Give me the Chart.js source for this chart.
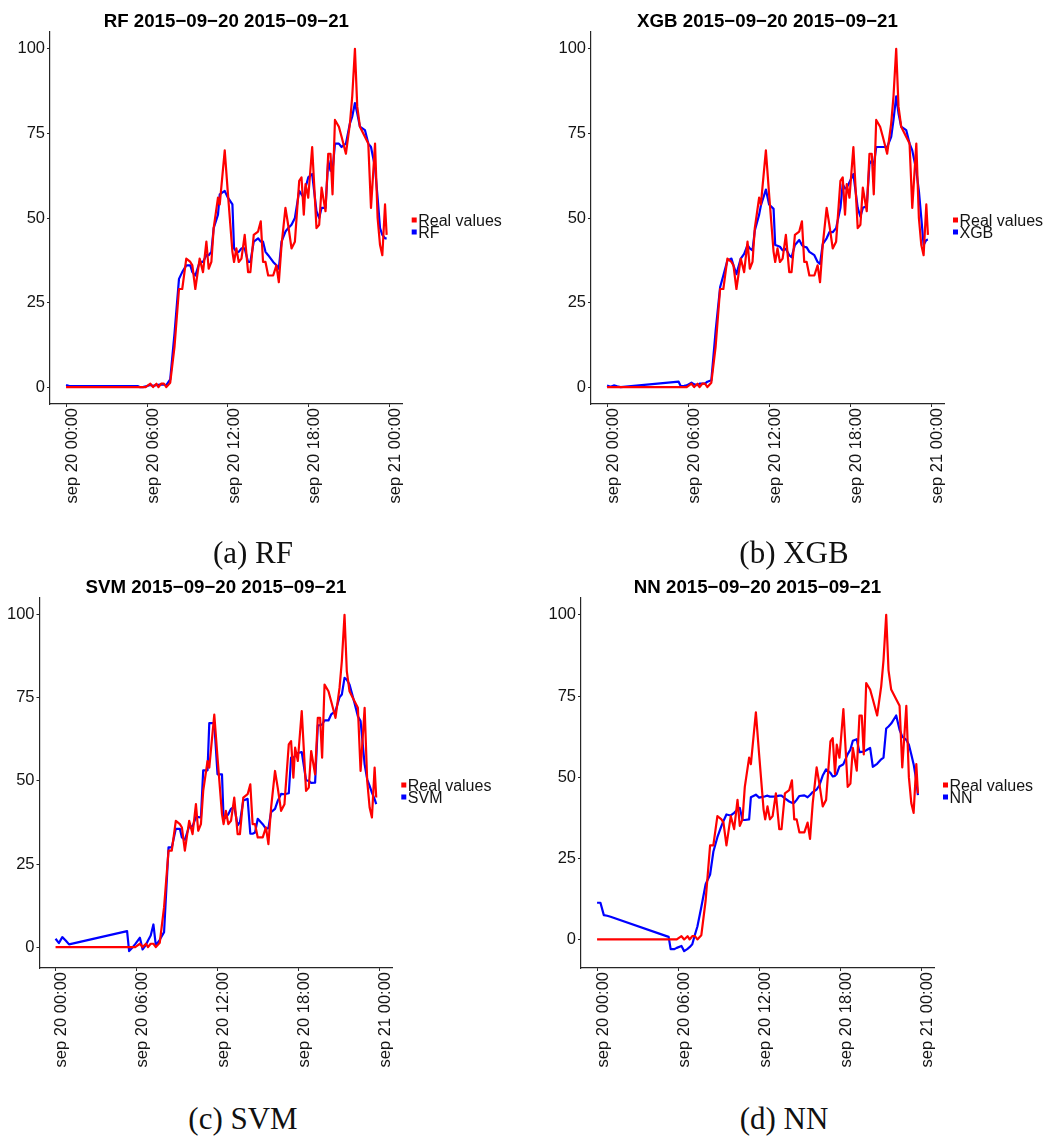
<!DOCTYPE html>
<html>
<head>
<meta charset="utf-8">
<script src="https://cdn.jsdelivr.net/npm/chart.js@4.4.1/dist/chart.umd.min.js"></script>
<style>
  html, body { margin: 0; padding: 0; background: #ffffff; }
  body { width: 1045px; height: 1137px; position: relative; overflow: hidden; }
  canvas { position: absolute; }
  .caption {
    position: absolute; width: 300px; text-align: center;
    font-family: "Liberation Serif", "Times New Roman", serif;
    font-size: 31px; line-height: 31px; color: #111;
  }
</style>
</head>
<body>
<canvas id="rf"  width="522" height="510" style="left:0px;top:0px;"></canvas>
<canvas id="xgb" width="504" height="510" style="left:541px;top:0px;"></canvas>
<canvas id="svm" width="522" height="508" style="left:0px;top:566px;"></canvas>
<canvas id="nn"  width="514" height="508" style="left:531px;top:566px;"></canvas>
<div class="caption" style="left:103px;top:537px;">(a) RF</div>
<div class="caption" style="left:644px;top:537px;">(b) XGB</div>
<div class="caption" style="left:93px;top:1103px;">(c) SVM</div>
<div class="caption" style="left:634px;top:1103px;">(d) NN</div>
<script>
// Observation times, hours after 2015-09-20 00:00
const times = [0, 0.25, 0.5, 0.75, 1.0,
  5.3, 5.45, 5.7, 5.9, 6.25, 6.45, 6.7, 6.85, 7.05, 7.25, 7.43,
  7.72, 8.04, 8.37, 8.61, 8.91, 9.21, 9.36, 9.58, 9.9, 10.15,
  10.4, 10.57, 10.77, 10.94, 11.26, 11.39, 11.76, 12.0, 12.33, 12.45,
  12.62, 12.8, 13.0, 13.24, 13.49, 13.66, 13.91, 14.23, 14.43, 14.6,
  14.78, 14.98, 15.35, 15.59, 15.77, 15.97, 16.26, 16.46, 16.71, 16.96,
  17.28, 17.45, 17.62, 17.75, 17.95, 18.24, 18.56, 18.76, 18.94, 19.23,
  19.43, 19.6, 19.75, 19.93, 20.22, 20.42, 20.74, 21.04, 21.21, 21.41,
  21.58, 21.78, 22.15, 22.4, 22.6, 22.9, 23.09, 23.27, 23.44, 23.64, 23.76];

// Measured values
const realValues = [0, 0, 0, 0, 0,
  0, 0, 0, 0, 1, 0, 1, 0, 1, 1, 0,
  1.3, 12, 29, 29, 38, 37, 36, 29, 38, 34,
  43, 35, 37, 47, 56, 54, 70, 57, 40, 37,
  41, 37, 38, 45, 34, 34, 45, 46, 49, 37,
  37, 33, 33, 36, 31, 42, 53, 48, 41, 43,
  61, 62, 51, 60, 56, 71, 47, 48, 59, 52,
  69, 69, 57, 79, 77, 74, 69, 78, 86, 100,
  83, 77, 74, 72, 53, 72, 50, 42, 39, 54, 45];

// Model predictions
const rfPred = [0.6, 0.3, 0.3, 0.3, 0.3,
  0.3, 0, 0, 0.2, 0.6, 0.4, 0.6, 0.7, 0.8, 0.7, 0.6,
  2.3, 16, 32, 34, 36, 36, 34, 33, 37, 37,
  39, 39, 40, 47, 51, 57, 58, 56, 54, 41,
  40, 40, 41, 41, 37, 37, 43, 44, 43, 43,
  40, 39, 37, 36, 35, 43, 46, 47, 48, 50,
  58, 57, 56, 59, 62, 63, 52, 50, 53, 53,
  67, 64, 64, 72, 72, 71, 72, 78, 80, 84,
  81, 77, 76, 72, 71, 65, 56, 47, 45, 44, 44];

const xgbPred = [0.5, 0.1, 0.5, 0.2, 0,
  1.6, 0.3, 0.4, 0.5, 1.3, 0.8, 0.6, 1.0, 1.0, 1.0, 1.6,
  2.0, 16.6, 29.5, 33, 37.4, 38, 36, 33.4, 38, 39.4,
  42, 41, 40.4, 46.3, 51, 53.7, 58.4, 54, 52.7, 42,
  41.8, 41.5, 40.4, 40.9, 39, 38.4, 42, 43.5, 42, 41.5,
  41.3, 40, 39, 37, 36.4, 42.3, 44, 45.8, 45.8, 47,
  53, 60, 58.7, 59, 60.6, 63, 53, 50.4, 53, 53.5,
  66, 67, 65.6, 71, 71, 71, 71, 74, 79, 86,
  81, 77, 76, 72, 70, 64, 58, 50, 42, 43.5, 43.6];

const svmPred = [2.5, 1.2, 3, 2, 0.8,
  4.8, -1.2, -0.1, 0.9, 2.8, -0.7, 0.7, 2.0, 3.5, 6.8, 0.5,
  2.2, 4.5, 30, 30, 35.6, 35.6, 33, 32.3, 36.3, 36.3,
  39.1, 39.1, 39, 53.2, 53.2, 67.4, 67.4, 52, 52, 38.6,
  39, 40, 41.6, 42.3, 36.6, 37.6, 44.1, 44.6, 34.1, 34.1,
  34.5, 38.6, 37, 35.6, 35.8, 40.6, 41.6, 44, 46.1, 46,
  46.3, 57, 57, 57.5, 58.4, 58.7, 50.2, 50, 49.4, 49.5,
  66.7, 66.8, 67, 68.2, 68.2, 70, 71, 75.2, 76, 81,
  80.5, 79, 73.5, 69.5, 68, 55, 50.5, 48.5, 46.5, 44.5, 43];

const nnPred = [11.3, 11.3, 7.5, 7.3, 7.0,
  0.8, -3, -3, -2.6, -2, -3.6, -2.9, -2.4, -1.5, 1.5, 4,
  10, 17, 20, 27, 31.5, 35, 36.5, 38.5, 38.2, 39,
  40, 40.5, 36.8, 36.8, 37, 43.8, 44.6, 43.7, 44, 44.1,
  44.3, 44, 44, 44.1, 44.3, 44.3, 43.5, 42.5, 42.1, 42.1,
  43, 44.2, 44.4, 43.8, 44.5, 45.4, 46.2, 47.5, 50.5, 52.4,
  51.3, 50.2, 50.4, 51, 53.3, 54, 57.1, 58.5, 61.2, 61.7,
  57.7, 57.8, 57.9, 58.3, 59, 53.2, 54.1, 55.5, 56, 65,
  65.6, 66.5, 69, 64.6, 62.5, 61.5, 60, 57, 54, 49, 44.5];

// Axis ticks
const xTickHours = [0, 6, 12, 18, 24];
const xTickLabels = ['sep 20 00:00', 'sep 20 06:00', 'sep 20 12:00', 'sep 20 18:00', 'sep 21 00:00'];
const yTicks = [0, 25, 50, 75, 100];

const SANS = '"Liberation Sans", Arial, Helvetica, sans-serif';
const INK = '#141414';
const AXIS = '#262626';

// Small square keys to the right of the panel, ggplot style
const keyLegend = {
  id: 'keyLegend',
  afterDraw(chart) {
    const { ctx, chartArea } = chart;
    const mid = (chartArea.top + chartArea.bottom) / 2;
    const x = chartArea.right + 9;
    ctx.save();
    ctx.font = '16px ' + SANS;
    ctx.textBaseline = 'alphabetic';
    ctx.textAlign = 'left';
    chart.data.datasets.forEach((ds, i) => {
      const cy = mid + 2 + i * 12;
      ctx.fillStyle = ds.borderColor;
      ctx.fillRect(x, cy - 2.5, 5, 5);
      ctx.fillStyle = INK;
      ctx.fillText(ds.label, x + 6.5, cy + 5.5);
    });
    ctx.restore();
  }
};

function points(values) {
  return times.map((t, i) => ({ x: t, y: values[i] }));
}

function makePanel(id, model, pred, opts) {
  const ctx = document.getElementById(id);
  return new Chart(ctx, {
    type: 'line',
    data: {
      datasets: [
        { label: 'Real values', data: points(realValues), borderColor: '#ff0000' },
        { label: model, data: points(pred), borderColor: '#0000ff' }
      ]
    },
    options: {
      responsive: false,
      animation: false,
      devicePixelRatio: 1,
      elements: {
        point: { radius: 0 },
        line: { borderWidth: 2.2, tension: 0, borderJoinStyle: 'round', fill: false }
      },
      layout: { padding: { left: 0, right: opts.padRight, top: 0, bottom: 0 } },
      plugins: {
        legend: { display: false },
        tooltip: { enabled: false },
        title: {
          display: true,
          text: model + ' 2015\u221209\u221220 2015\u221209\u221221',
          fullSize: false,
          color: '#000',
          font: { family: SANS, size: 18.7, weight: 'bold', lineHeight: 1 },
          padding: { top: 12.4, bottom: 0.9 }
        }
      },
      scales: {
        x: {
          type: 'linear',
          min: -1.19,
          max: 24.95,
          afterBuildTicks: s => { s.ticks = xTickHours.map(v => ({ value: v })); },
          afterFit: s => { s.height = 106; },
          ticks: {
            autoSkip: false,
            minRotation: 90,
            maxRotation: 90,
            labelOffset: 6,
            padding: 1,
            color: INK,
            font: { family: SANS, size: 16.5 },
            callback: v => xTickLabels[xTickHours.indexOf(v)]
          },
          grid: { drawOnChartArea: false, drawTicks: true, tickLength: 3, color: AXIS, lineWidth: 1 },
          border: { display: true, color: AXIS, width: 1.2 }
        },
        y: {
          type: 'linear',
          min: opts.yMin,
          max: opts.yMax,
          afterBuildTicks: s => { s.ticks = yTicks.map(v => ({ value: v })); },
          afterFit: s => { s.width = opts.yWidth; },
          ticks: {
            padding: 2,
            color: INK,
            font: { family: SANS, size: 16.5 }
          },
          grid: { drawOnChartArea: false, drawTicks: true, tickLength: 3, color: AXIS, lineWidth: 1 },
          border: { display: true, color: AXIS, width: 1.2 }
        }
      }
    },
    plugins: [keyLegend]
  });
}

makePanel('rf',  'RF',  rfPred,  { padRight: 119.3, yWidth: 50,   yMin: -5,   yMax: 105 });
makePanel('xgb', 'XGB', xgbPred, { padRight: 101,   yWidth: 50,   yMin: -5,   yMax: 105 });
makePanel('svm', 'SVM', svmPred, { padRight: 129.7, yWidth: 39.5, yMin: -6.3, yMax: 105.06 });
makePanel('nn',  'NN',  nnPred,  { padRight: 111,   yWidth: 50,   yMin: -8.8, yMax: 105.2 });
</script>
</body>
</html>
